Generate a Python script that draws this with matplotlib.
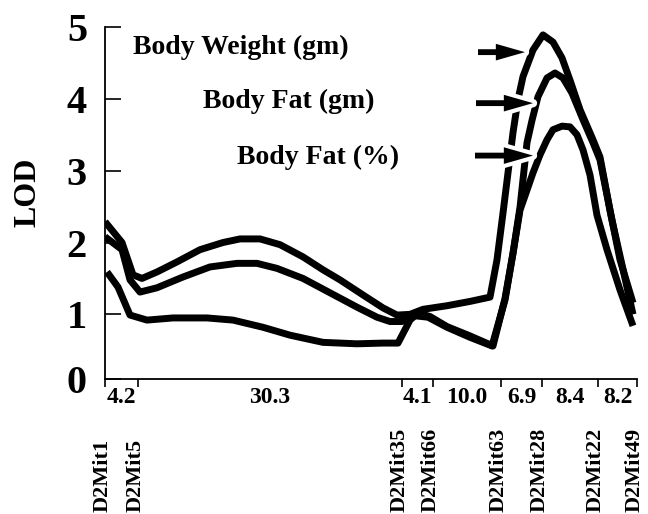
import matplotlib
matplotlib.use("Agg")
import matplotlib.pyplot as plt
import matplotlib.patheffects as pe
from matplotlib.transforms import blended_transform_factory

# Marker map, drawn positions along the chromosome axis (as spaced in the figure)
markers = ["D2Mit1", "D2Mit5", "D2Mit35", "D2Mit66", "D2Mit63", "D2Mit28", "D2Mit22", "D2Mit49"]
marker_pos = [0, 33, 297, 328, 396, 437, 493, 532]
intervals = ["4.2", "30.3", "4.1", "10.0", "6.9", "8.4", "8.2"]

# LOD traces (x in the same drawn units)
bw_x = [0, 17, 28, 37, 52, 72, 95, 118, 135, 155, 175, 198, 218, 235, 258, 278, 292,
        305, 318, 342, 365, 385, 392, 398, 403, 408, 413, 418, 428, 438, 448, 457, 465,
        475, 488, 495, 505, 515, 528]
bw_lod = [2.29, 2.0, 1.55, 1.5, 1.59, 1.73, 1.9, 2.0, 2.05, 2.05, 1.97, 1.8, 1.62, 1.48,
          1.27, 1.09, 0.99, 1.0, 1.07, 1.12, 1.18, 1.24, 1.76, 2.41, 2.97, 3.53, 3.99,
          4.31, 4.68, 4.89, 4.79, 4.57, 4.26, 3.85, 3.43, 3.19, 2.45, 1.76, 1.16]

fat_gm_x = [0, 17, 25, 35, 52, 78, 105, 132, 152, 172, 198, 225, 252, 272, 285, 297,
            310, 323, 342, 365, 387, 400, 408, 415, 422, 427, 433, 442, 450, 458, 467,
            478, 488, 495, 507, 517, 528]
fat_gm_lod = [2.08, 1.9, 1.48, 1.31, 1.37, 1.52, 1.66, 1.71, 1.71, 1.64, 1.5, 1.3, 1.1,
              0.96, 0.9, 0.9, 0.98, 0.96, 0.82, 0.68, 0.56, 1.2, 1.85, 2.49, 3.39, 3.7,
              4.03, 4.29, 4.36, 4.29, 4.08, 3.71, 3.39, 3.15, 2.31, 1.69, 1.0]

fat_pct_x = [2, 13, 25, 42, 68, 102, 128, 158, 185, 218, 252, 278, 293, 305, 313, 325,
             342, 365, 388, 400, 408, 415, 422, 428, 435, 442, 448, 457, 465, 472, 478,
             485, 492, 502, 515, 528]
fat_pct_lod = [1.59, 1.38, 0.99, 0.92, 0.95, 0.95, 0.92, 0.82, 0.71, 0.61, 0.59, 0.6,
               0.6, 0.92, 1.02, 0.97, 0.83, 0.7, 0.56, 1.22, 1.85, 2.45, 2.73, 2.97,
               3.22, 3.43, 3.57, 3.62, 3.61, 3.5, 3.29, 2.94, 2.38, 1.9, 1.34, 0.84]

labels = ["Body Weight (gm)", "Body Fat (gm)", "Body Fat (%)"]
label_x = [28, 98, 132]
label_y = [4.72, 3.96, 3.19]
arrow_x0 = [373, 371, 370]
arrow_x1 = [420, 428, 428]
arrow_y = [4.65, 3.94, 3.21]

plt.rcParams["font.family"] = "Liberation Serif"
plt.rcParams["font.weight"] = "bold"

fig = plt.figure(figsize=(6.48, 5.14), dpi=100)
ax = fig.add_axes([105 / 648, 135 / 514, 532 / 648, 352 / 514])

for xs, ys in [(fat_pct_x, fat_pct_lod), (fat_gm_x, fat_gm_lod), (bw_x, bw_lod)]:
    ax.plot(xs, ys, color="black", lw=5, solid_joinstyle="round",
            solid_capstyle="butt", zorder=2)

ax.set_xlim(0, 532)
ax.set_ylim(0.1, 5)

# axes styling
for s in ["top", "right"]:
    ax.spines[s].set_visible(False)
for s in ["left", "bottom"]:
    ax.spines[s].set_linewidth(1.3)

ax.set_yticks([0.1, 1, 2, 3, 4, 5])
ax.set_yticklabels(["0", "1", "2", "3", "4", "5"])
ax.tick_params(axis="y", direction="in", length=11.5, width=1.2, pad=13, labelsize=29)
ax.set_xticks(marker_pos)
ax.set_xticklabels([])
ax.tick_params(axis="x", direction="out", length=6, width=1.2)

# interval distances between markers
trans = blended_transform_factory(ax.transData, ax.transAxes)
for i, lab in enumerate(intervals):
    mid = (marker_pos[i] + marker_pos[i + 1]) / 2
    ax.text(mid, -0.052, lab, transform=trans, ha="center", va="center", fontsize=17)

# marker names, rotated along the bottom
ftrans = blended_transform_factory(ax.transData, fig.transFigure)
for pos, name in zip(marker_pos, markers):
    ax.text(pos - 2, 0.004, name, transform=ftrans, rotation=90, ha="center",
            va="bottom", fontsize=16, clip_on=False)

# trait labels with arrows
for lab, lx, ly in zip(labels, label_x, label_y):
    ax.text(lx, ly, lab, ha="left", va="center", fontsize=20)
for x0, x1, y in zip(arrow_x0, arrow_x1, arrow_y):
    ax.annotate("", xy=(x1, y), xytext=(x0, y),
                arrowprops=dict(width=4.2, headwidth=12, headlength=21, shrink=0,
                                facecolor="black", edgecolor="black", lw=0,
                                path_effects=[pe.withStroke(linewidth=6, foreground="white")]),
                zorder=3)

fig.text(28 / 648, 1 - 192 / 514, "LOD", rotation=90, ha="center", va="center",
         fontsize=23)

fig.savefig("out.png", dpi=100)
